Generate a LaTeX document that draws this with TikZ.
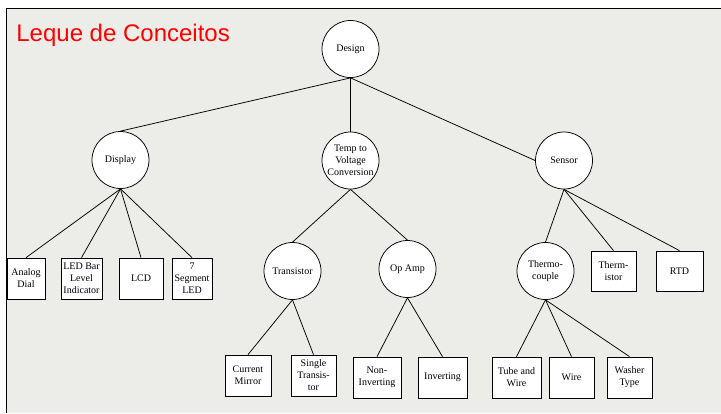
\documentclass[tikz,border=0pt]{standalone}
\usepackage{fontspec}
\setmainfont{Liberation Serif}
\newfontfamily\nodefont{Liberation Serif}
\newfontfamily\titlefont{Liberation Sans}
\definecolor{paper}{RGB}{236,236,233}
\begin{document}
\begin{tikzpicture}[x=1pt,y=-1pt,line width=0.75pt,
  topic/.style={draw,circle,fill=white,minimum size=57pt,inner sep=0pt,align=center,
    font=\nodefont\fontsize{10}{12}\selectfont},
  leaf/.style={draw,rectangle,fill=white,minimum height=41pt,inner sep=1pt,align=center,
    font=\nodefont\fontsize{10}{12}\selectfont}]
\useasboundingbox (0,0) rectangle (721,413);
\fill[paper] (6,8) rectangle (721,413);
\draw (6,413) -- (6,8) -- (721,8);
\node[anchor=base west,inner sep=0pt,text=red,font=\titlefont\fontsize{24}{28}\selectfont] (title) at (16,41) {Leque de Conceitos};
% top levels
\node[topic] (design) at (350.5,49) {Design};
\node[topic] (display) at (120.5,160) {Display};
\node[topic] (temp) at (350.5,160.5) {Temp to\\Voltage\\Conversion};
\node[topic] (sensor) at (564,160.5) {Sensor};
\draw (design.south) -- (display.north);
\draw (design.south) -- (temp.north);
\draw (design.south) -- (sensor.west);
% display
\node[leaf,minimum width=38pt] (analog) at (26,278.5) {Analog\\Dial};
\node[leaf,minimum width=41pt] (ledbar) at (81.5,278.5) {LED Bar\\Level\\Indicator};
\node[leaf,minimum width=44pt] (lcd) at (141,278.5) {LCD};
\node[leaf,minimum width=40pt] (segled) at (192,278.5) {7\\Segment\\LED};
\draw (display.south) -- (analog.north);
\draw (display.south) -- (ledbar.north);
\draw (display.south) -- (lcd.north);
\draw (display.south) -- (segled.north);
% temp to voltage
\node[topic] (transistor) at (292.5,271) {Transistor};
\node[topic] (opamp) at (407.5,269) {Op Amp};
\draw (temp.south) -- (transistor.north);
\draw (temp.south) -- (opamp.north);
\node[leaf,minimum width=46pt] (mirror) at (248,375.5) {Current\\Mirror};
\node[leaf,minimum width=45pt] (single) at (313.5,375.5) {Single\\Transis-\\tor};
\node[leaf,minimum width=48pt] (noninv) at (377,377.5) {Non-\\Inverting};
\node[leaf,minimum width=49pt] (inverting) at (442.5,377.5) {Inverting};
\draw (transistor.south) -- (mirror.north);
\draw (transistor.south) -- (single.north);
\draw (opamp.south) -- (noninv.north);
\draw (opamp.south) -- (inverting.north);
% sensor
\node[topic] (thermocouple) at (545.5,271) {Thermo-\\couple};
\node[leaf,minimum width=45pt,minimum height=40pt] (thermistor) at (613.5,271) {Therm-\\istor};
\node[leaf,minimum width=47pt,minimum height=40pt] (rtd) at (679.5,271) {RTD};
\draw (sensor.south) -- (thermocouple.north);
\draw (sensor.south) -- (thermistor.north);
\draw (sensor.south) -- (rtd.north);
\node[leaf,minimum width=49pt] (tube) at (516.5,377.5) {Tube and\\Wire};
\node[leaf,minimum width=45pt] (wire) at (571.5,377.5) {Wire};
\node[leaf,minimum width=45pt] (washer) at (629.5,377.5) {Washer\\Type};
\draw (thermocouple.south) -- (tube.north);
\draw (thermocouple.south) -- (wire.north);
\draw (thermocouple.south) -- (washer.north);
\end{tikzpicture}
\end{document}
